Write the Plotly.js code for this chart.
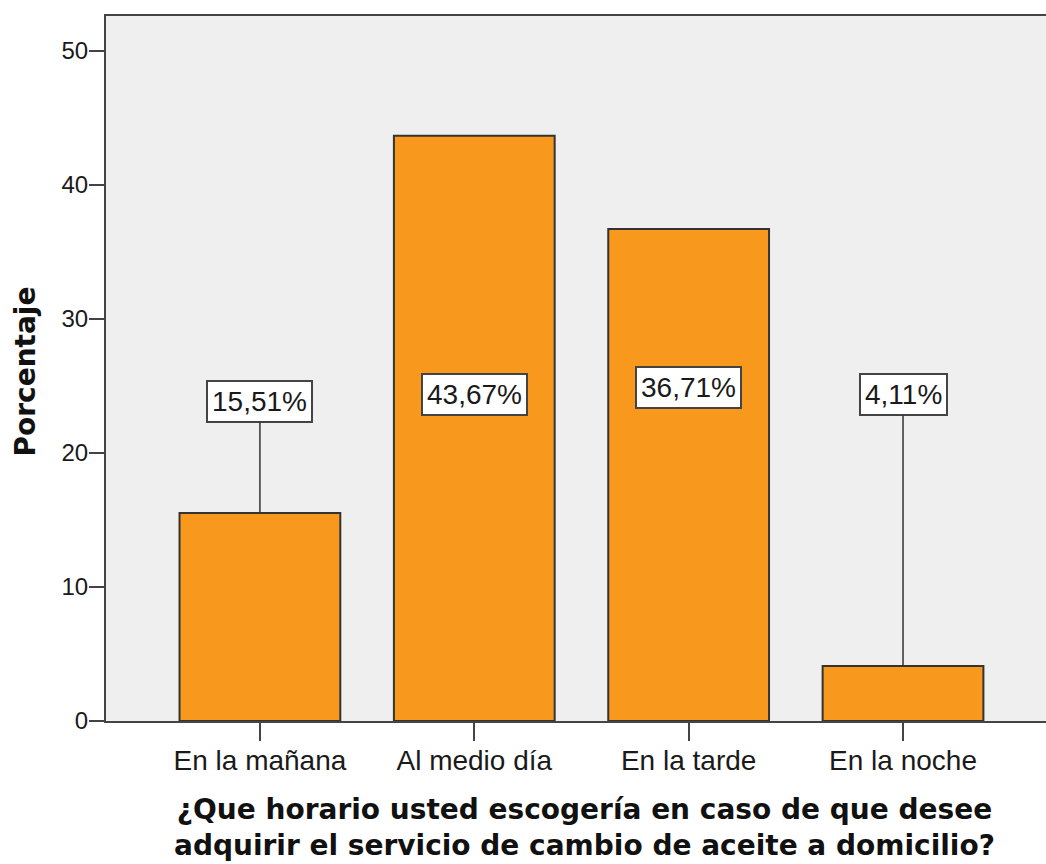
<!DOCTYPE html>
<html>
<head>
<meta charset="utf-8">
<script src="https://cdn.plot.ly/plotly-3.0.1.min.js"></script>
<style>html,body{margin:0;padding:0;background:#fff;}#chart{width:1046px;height:864px;}</style>
</head>
<body>
<div id="chart"></div>
<script>
// ---- data ----
const categories = ["En la mañana", "Al medio día", "En la tarde", "En la noche"];
const percentages = [15.51, 43.67, 36.71, 4.11];
const valueLabels = ["15,51%", "43,67%", "36,71%", "4,11%"];
const yTickValues = [0, 10, 20, 30, 40, 50];
const yTickLabels = ["0", "10", "20", "30", "40", "50"];
const xTitleLines = ["¿Que horario usted escogería en caso de que desee", "adquirir el servicio de cambio de aceite a domicilio?"];
const yTitle = "Porcentaje";

// ---- layout helpers (positions/styles) ----
const labelLevel = [23.85, 24.35, 24.9, 24.35];
const insideBar = [false, true, true, false];

const trace = {
  type: "bar",
  x: categories,
  y: percentages,
  marker: {color: "#F8991D", line: {color: "#333333", width: 2}},
  hoverinfo: "none"
};

const annotations = categories.map((c, i) => {
  const base = {
    text: valueLabels[i],
    font: {family: "Liberation Sans, Arial, sans-serif", size: 28, color: "#1a1a1a"},
    bgcolor: "#ffffff",
    bordercolor: "#444444",
    borderwidth: 2,
    borderpad: 4,
    xref: "x", yref: "y"
  };
  if (insideBar[i]) {
    return Object.assign(base, {x: c, y: labelLevel[i], showarrow: false});
  }
  return Object.assign(base, {
    x: c, y: percentages[i],
    ax: c, ay: labelLevel[i], axref: "x", ayref: "y",
    showarrow: true, arrowhead: 0, arrowwidth: 1.5, arrowcolor: "#333333", standoff: 0
  });
});

const titleFont = {family: "DejaVu Sans, sans-serif", size: 28, color: "#111111", weight: "bold"};
annotations.push({
  text: "<b>" + xTitleLines.join("<br>") + "</b>", xref: "paper", yref: "paper", x: 0.5, y: 0,
  xanchor: "center", yanchor: "middle", align: "center", yshift: -106, xshift: 8, showarrow: false,
  font: titleFont
});
annotations.push({
  text: "<b>" + yTitle + "</b>", xref: "paper", yref: "paper", x: 0, y: 0.5,
  xanchor: "center", yanchor: "middle", xshift: -81, yshift: -3, textangle: -90, showarrow: false, font: titleFont
});

const layout = {
  width: 1046, height: 864,
  margin: {l: 106, r: 0, t: 16, b: 143},
  paper_bgcolor: "#ffffff",
  plot_bgcolor: "#EFEFEF",
  bargap: 0.25,
  showlegend: false,
  xaxis: {
    type: "category",
    range: [-0.718, 3.667],
    showline: true, linecolor: "#444444", linewidth: 2, mirror: true,
    ticks: "outside", ticklen: 18, tickwidth: 2, tickcolor: "#444444",
    ticklabelstandoff: -5,
    showgrid: false, zeroline: false,
    tickfont: {family: "Liberation Sans, Arial, sans-serif", size: 28, color: "#1a1a1a"}
  },
  yaxis: {
    range: [0, 52.6],
    tickvals: yTickValues, ticktext: yTickLabels,
    showline: true, linecolor: "#444444", linewidth: 2,
    ticks: "outside", ticklen: 15, tickwidth: 2, tickcolor: "#444444",
    ticklabelstandoff: -4,
    showgrid: false, zeroline: false,
    tickfont: {family: "Liberation Sans, Arial, sans-serif", size: 24, color: "#1a1a1a"}
  },
  annotations: annotations
};

Plotly.newPlot("chart", [trace], layout, {staticPlot: true, displayModeBar: false});
</script>
</body>
</html>
